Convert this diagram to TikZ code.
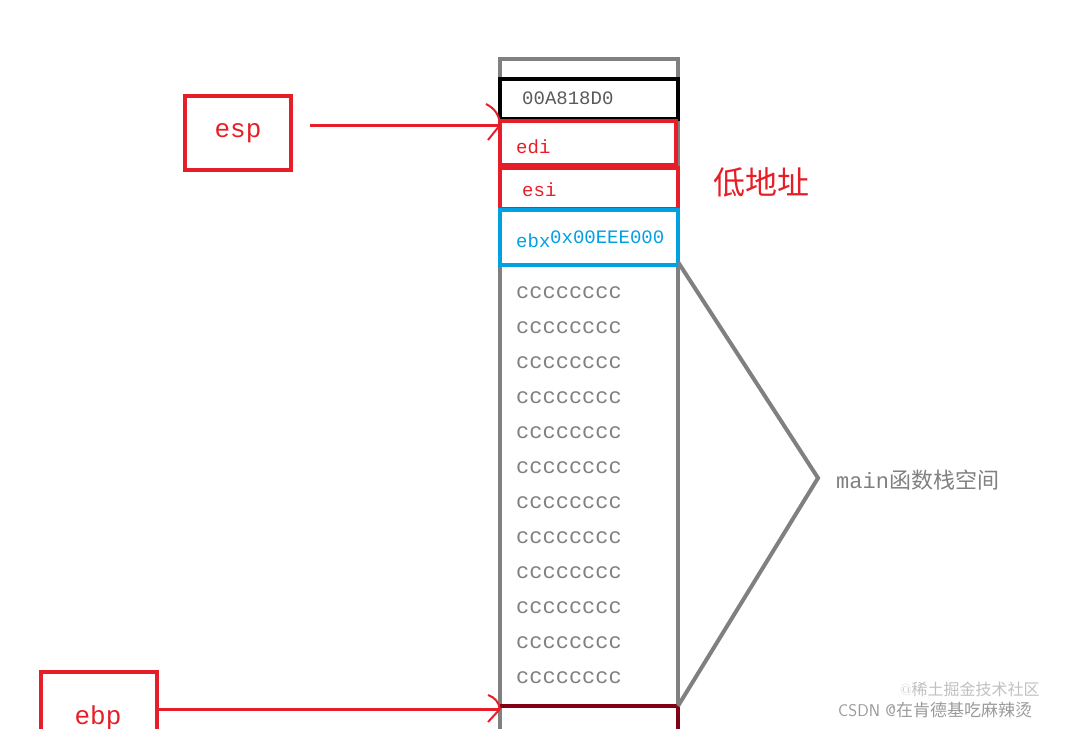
\documentclass[tikz,border=0pt]{standalone}
\usepackage{fontspec}
\setmonofont{Liberation Mono}
\newfontfamily\cjk{Noto Sans CJK SC}
\begin{document}
\begin{tikzpicture}[x=1pt,y=-1pt,
  cell/.style={line width=4pt},
  lbl/.style={font=\ttfamily\fontsize{19}{19}\selectfont,anchor=west,inner sep=0pt}]
\useasboundingbox (0,0) rectangle (1083,728);
\begin{scope}
\clip (0,0) rectangle (1083,728);
\definecolor{rd}{RGB}{230,30,40}
\definecolor{bl}{RGB}{0,160,225}
\definecolor{gr}{RGB}{128,128,128}
\definecolor{dr}{RGB}{130,0,20}
% column
\draw[gr,line width=4pt] (500,740) -- (500,59) -- (678,59) -- (678,706);
\draw[dr,line width=4pt] (500,706) -- (678,706) -- (678,740);
\node[draw=black,cell,minimum width=178pt,minimum height=40pt,inner sep=0pt] (b0) at (589,99) {};
\node[lbl,text=gr!70!black] at (522,98) {00A818D0};
\node[draw=rd,cell,minimum width=176pt,minimum height=44pt,inner sep=0pt] (b1) at (588,143) {};
\node[lbl,text=rd] (edi) at (516,147) {edi};
\node[draw=rd,cell,minimum width=178pt,minimum height=41pt,inner sep=0pt] (b2) at (589,188) {};
\node[lbl,text=rd] at (522,190) {esi};
\node[draw=bl,cell,minimum width=178pt,minimum height=55pt,inner sep=0pt] (b3) at (589,237) {};
\node[lbl,text=bl] at (516,241) {ebx};
\node[lbl,text=bl,font=\ttfamily\fontsize{19}{19}\selectfont] at (550,237) {0x00EEE000};
\foreach \i in {0,...,11}
  \node[lbl,text=gr,font=\ttfamily\fontsize{22}{22}\selectfont] at (516,293+35*\i) {cccccccc};
% brace
\coordinate (tip) at (818,478);
\coordinate (bt) at (678,262);
\coordinate (bb) at (678,706);
\draw[gr,line width=4pt] (bt) -- (tip) -- (bb);
\node[anchor=west,text=gr,inner sep=0pt,font=\fontsize{22}{22}\selectfont] (main) at (836,480) {\ttfamily main\cjk 函数栈空间};
\node[anchor=west,text=rd,inner sep=0pt,font=\cjk\fontsize{32}{32}\selectfont] (low) at (713,182) {低地址};
% esp
\node[draw=rd,line width=4pt,minimum width=106pt,minimum height=74pt,inner sep=0pt,text=rd,font=\ttfamily\fontsize{26}{26}\selectfont] (esp) at (238,133) {esp};
\coordinate (e0) at (500,125);
\draw[rd,line width=3pt] (310,125) -- (e0);
\draw[rd,line width=2pt] (486,104) to[bend left=30] (e0);
\draw[rd,line width=2pt] (488,140) -- (e0);
% ebp
\node[draw=rd,line width=4pt,minimum width=116pt,minimum height=80pt,inner sep=0pt] (ebpb) at (99,712) {};
\node[text=rd,font=\ttfamily\fontsize{26}{26}\selectfont,inner sep=0pt] at (98,718) {ebp};
\coordinate (bl0) at (500,709);
\draw[rd,line width=3pt] (ebpb.east |- bl0) -- (bl0);
\draw[rd,line width=2pt] (488,695) to[bend left=30] (bl0);
\draw[rd,line width=2pt] (488,722) -- (bl0);
% watermark
\node[anchor=west,text=gr!80,inner sep=0pt,font=\fontsize{17}{17}\selectfont] (wm) at (838,710) {\sffamily CSDN @\cjk 在肯德基吃麻辣烫};
\node[anchor=west,text=gr!50,inner sep=0pt,font=\fontsize{16}{16}\selectfont] (wm2) at (900,689) {@\cjk 稀土掘金技术社区};
\end{scope}
\end{tikzpicture}
\end{document}
